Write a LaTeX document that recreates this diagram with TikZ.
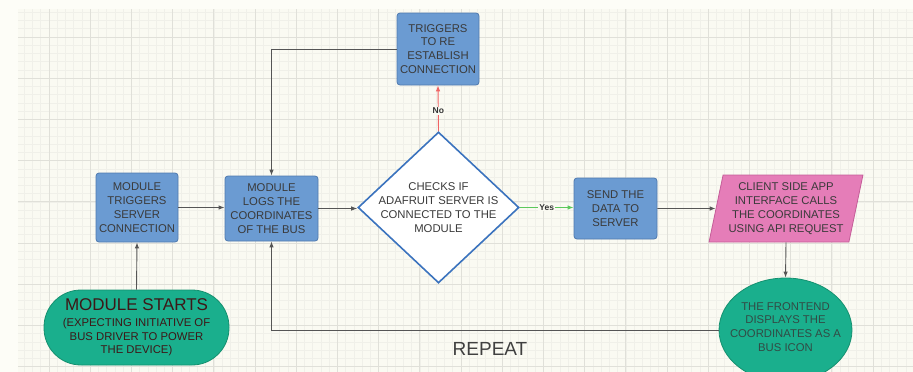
\documentclass[tikz,border=0pt]{standalone}
\usepackage{fontspec}
\setmainfont{Liberation Sans}
\usetikzlibrary{shapes.geometric,arrows.meta}
\definecolor{pagebg}{HTML}{FDFDF7}
\definecolor{gridbg}{HTML}{FAFAF2}
\definecolor{minorgrid}{HTML}{F0F0E9}
\definecolor{majorgrid}{HTML}{E0E0D9}
\definecolor{bluefill}{HTML}{6B9BD2}
\definecolor{blueline}{HTML}{4F79AE}
\definecolor{pinkfill}{HTML}{E57DB8}
\definecolor{pinkline}{HTML}{C45D98}
\definecolor{tealfill}{HTML}{1AAF8D}
\definecolor{tealline}{HTML}{14906F}
\definecolor{diamline}{HTML}{3B73BE}
\definecolor{txt}{HTML}{3A3A3A}
\definecolor{linegray}{HTML}{555555}
\definecolor{nored}{HTML}{F06464}
\definecolor{yesgreen}{HTML}{5CC85C}
\begin{document}
\begin{tikzpicture}[x=1pt,y=-1pt,
  boxtext/.style={font=\fontsize{11.3}{13.8}\selectfont, text=txt, align=center},
  bluebox/.style={boxtext, draw=blueline, fill=bluefill, line width=0.8pt, rounded corners=3pt, inner sep=0pt},
  arr/.style={draw=linegray, line width=0.9pt, -{Latex[length=6pt,width=4.5pt]}},
  lab/.style={font=\bfseries\fontsize{8.5}{10}\selectfont, text=black!80, fill=gridbg, inner sep=1pt}
]
\useasboundingbox (0,0) rectangle (913,372);
\fill[pagebg] (0,0) rectangle (913,372);
\begin{scope}
  \clip (18,9) rectangle (913,372);
  \fill[gridbg] (18,9) rectangle (913,372);
  \foreach \k in {-4,...,106} {
    \draw[minorgrid, line width=0.6pt] ({49+8.24*\k},9) -- ++(0,363);
  }
  \foreach \k in {-4,...,45} {
    \draw[minorgrid, line width=0.6pt] (18,{37+8.24*\k}) -- ++(895,0);
  }
  \foreach \k in {-1,...,21} {
    \draw[majorgrid, line width=0.8pt] ({49+41.2*\k},9) -- ++(0,363);
  }
  \foreach \k in {-1,...,8} {
    \draw[majorgrid, line width=0.8pt] (18,{37+41.2*\k}) -- ++(895,0);
  }
\end{scope}

% nodes
\node[bluebox, minimum width=82pt, minimum height=69pt] (trig) at (137,207.5) {MODULE\\TRIGGERS\\SERVER\\CONNECTION};
\node[bluebox, minimum width=93pt, minimum height=65pt] (logs) at (271.5,208.5) {MODULE\\LOGS THE\\COORDINATES\\OF THE BUS};
\node[draw=diamline, fill=white, line width=1.6pt, shape=diamond, minimum width=161pt, minimum height=151pt, inner sep=0pt] (dia) at (438.5,207.5) {};
\node[boxtext] (diatext) at (dia.center) {CHECKS IF\\ADAFRUIT SERVER IS\\CONNECTED TO THE\\MODULE};
\node[bluebox, minimum width=82pt, minimum height=72pt] (reest) at (438,49) {TRIGGERS\\TO RE\\ESTABLISH\\CONNECTION};
\node[bluebox, minimum width=83pt, minimum height=61pt] (send) at (615.5,208.5) {SEND THE\\DATA TO\\SERVER};
\node[boxtext, draw=pinkline, fill=pinkfill, line width=0.8pt, shape=trapezium, trapezium left angle=76, trapezium right angle=104, trapezium stretches=true, minimum width=154pt, minimum height=67pt, inner sep=0pt] (client) at (786,208.5) {CLIENT SIDE APP\\INTERFACE CALLS\\THE COORDINATES\\USING API REQUEST};
\node[draw=tealline, fill=tealfill, line width=0.8pt, shape=ellipse, minimum width=133pt, minimum height=104pt, inner sep=0pt] (front) at (785.5,330) {};
\node[boxtext, text=txt!80!tealline] (fronttext) at (785.5,327) {THE FRONTEND\\DISPLAYS THE\\COORDINATES AS A\\BUS ICON};
\node[boxtext, text=black!75!red!60!txt, draw=tealline, fill=tealfill, line width=0.8pt, rounded corners=37pt, minimum width=185pt, minimum height=75pt, inner sep=0pt] (start) at (136.5,327.5) {{\fontsize{17}{17}\selectfont MODULE STARTS}\\[2pt](EXPECTING INITIATIVE OF\\BUS DRIVER TO POWER\\THE DEVICE)};
\node[font=\fontsize{19}{22}\selectfont, text=black!75] (repeat) at (490,349) {REPEAT};

% connectors
\draw[arr] (start.north) -- (trig.south);
\draw[arr] (trig.east) -- (trig.east -| logs.west);
\draw[arr] (logs.east) -- (logs.east -| dia.west);
\draw[arr, draw=nored, -{Latex[length=6pt,width=4.5pt,fill=nored]}] (dia.north) -- node[lab, pos=0.45]{No} (reest.south);
\draw[arr] (reest.west) -| (logs.north);
\draw[arr, draw=yesgreen, -{Latex[length=6pt,width=4.5pt,fill=yesgreen]}] (dia.east) -- node[lab, pos=0.5]{Yes} (dia.east -| send.west);
\draw[arr] (send.east) -- (client);
\draw[arr] (client.south) -- (front.north);
\draw[arr] (front.west) -| (logs.south);
\end{tikzpicture}
\end{document}
